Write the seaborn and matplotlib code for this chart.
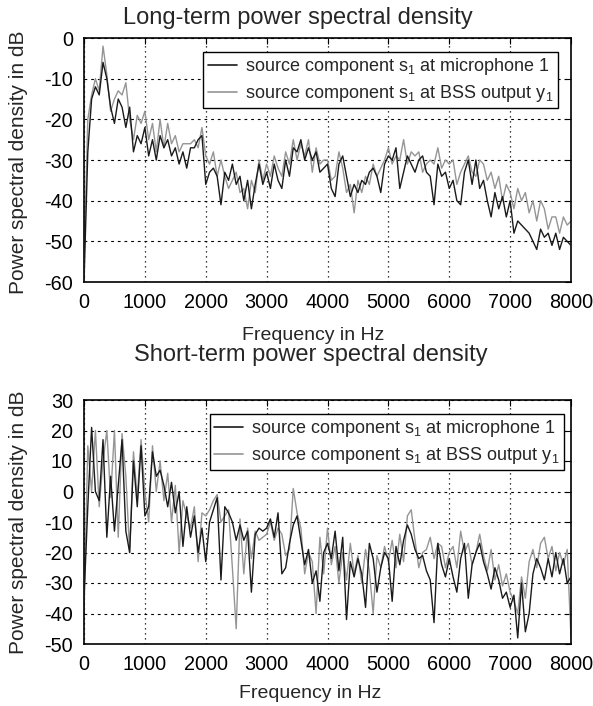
import numpy as np
import pandas as pd
import matplotlib
matplotlib.use("Agg")
import matplotlib.pyplot as plt
import seaborn as sns

# ---------------- data (dB, 62.5 Hz steps from 0 to 8000 Hz) ----------------
freq_hz = np.linspace(0, 8000, 129)

long_mic = [
    -60, -28, -15, -12, -14, -6, -10, -17, -21, -15, -17, -22, -17, -28, -24, -26,
    -22, -29, -25, -30, -24, -27, -25, -29, -27, -31, -28, -32, -27, -27, -25, -24,
    -36, -33, -32, -34, -41, -33, -35, -31, -36, -34, -40, -35, -42, -36, -31, -36,
    -33, -37, -31, -35, -37, -30, -34, -27, -28, -25, -30, -27, -30, -28, -33, -32,
    -31, -37, -39, -31, -29, -34, -39, -36, -38, -35, -36, -33, -32, -34, -38, -31,
    -29, -30, -27, -37, -33, -29, -31, -33, -30, -29, -33, -34, -41, -31, -34, -33,
    -37, -35, -40, -41, -33, -30, -36, -30, -37, -35, -40, -44, -38, -42, -39, -44,
    -40, -48, -45, -46, -47, -48, -50, -52, -47, -49, -48, -51, -48, -52, -49, -50,
    -51,
]
long_bss = [
    -55, -20, -14, -10, -13, -2, -9, -18, -15, -13, -14, -11, -20, -25, -19, -21,
    -18, -25, -21, -28, -20, -27, -21, -26, -24, -28, -26, -26, -26, -25, -27, -22,
    -29, -31, -28, -34, -30, -34, -37, -35, -33, -38, -37, -42, -35, -38, -30, -35,
    -31, -34, -29, -32, -34, -28, -31, -25, -30, -26, -29, -25, -33, -27, -31, -30,
    -30, -35, -34, -28, -32, -38, -36, -43, -35, -38, -34, -36, -31, -34, -32, -30,
    -27, -31, -29, -30, -25, -31, -28, -29, -28, -33, -31, -30, -31, -27, -32, -30,
    -31, -30, -36, -33, -31, -29, -33, -34, -30, -31, -35, -33, -37, -34, -40, -36,
    -38, -42, -37, -40, -38, -43, -40, -45, -40, -42, -47, -44, -44, -48, -44, -46,
    -45,
]
short_mic = [
    -35, -5, 21, 0, -3, 17, -15, 5, -13, 2, 17, -13, -20, 10, -5, 15,
    -8, -5, 13, 5, 7, 2, -5, 3, -7, 0, -18, -5, -15, -8, -20, -12,
    -23, -10, -6, -2, -29, -5, -7, -10, -16, -11, -16, -13, -33, -14, -12, -13,
    -12, -9, -15, -7, -27, -25, -17, -11, -8, -16, -24, -19, -30, -26, -36, -20,
    -17, -22, -13, -26, -15, -42, -23, -28, -22, -27, -38, -17, -22, -33, -25, -20,
    -22, -36, -18, -24, -16, -11, -14, -19, -22, -21, -26, -29, -43, -17, -24, -28,
    -22, -28, -33, -22, -17, -35, -24, -20, -17, -23, -27, -32, -25, -29, -35, -33,
    -38, -34, -48, -30, -46, -40, -27, -22, -25, -29, -22, -28, -20, -27, -22, -30,
    -28,
]
short_bss = [
    -40, 15, 0, 20, -5, 10, 20, -2, 20, -15, 19, 5, -20, 13, -2, 17,
    0, -10, 15, 0, 10, -3, 6, -10, 2, -20, -3, -8, -12, -5, -23, -7,
    -8, -6, -3, -1, -10, -8, -6, -25, -45, -9, -27, -12, -22, -13, -16, -15,
    -14, -10, -16, -12, -14, -21, -19, 1, -7, -12, -27, -20, -23, -40, -15, -27,
    -12, -24, -18, -30, -20, -29, -17, -27, -21, -30, -19, -26, -40, -21, -25, -18,
    -23, -16, -25, -14, -23, -8, -6, -16, -25, -20, -19, -15, -22, -17, -18, -25,
    -20, -18, -25, -13, -20, -17, -24, -20, -14, -21, -26, -19, -29, -24, -31, -27,
    -33, -36, -40, -28, -35, -23, -19, -25, -17, -15, -22, -18, -26, -20, -24, -19,
    -48,
]

labels = ["source component s$_1$ at microphone 1",
          "source component s$_1$ at BSS output y$_1$"]
titles = ["Long-term power spectral density", "Short-term power spectral density"]
x_ticks = [0, 1000, 2000, 3000, 4000, 5000, 6000, 7000, 8000]
y_ticks_long = [0, -10, -20, -30, -40, -50, -60]
y_ticks_short = [30, 20, 10, 0, -10, -20, -30, -40, -50]

# ---------------- style ----------------
sns.set_theme(style="white")
plt.rcParams["font.family"] = ["Liberation Sans", "DejaVu Sans"]
plt.rcParams["mathtext.default"] = "regular"
plt.rcParams["mathtext.fontset"] = "custom"
plt.rcParams["mathtext.rm"] = "Liberation Sans"

W, H = 593, 706
fig = plt.figure(figsize=(W / 100, H / 100), dpi=100)

def px_axes(left, top, right, bottom):
    return fig.add_axes([left / W, 1 - bottom / H, (right - left) / W, (bottom - top) / H])

ax1 = px_axes(84, 38, 571, 282)
ax2 = px_axes(84, 400, 571, 644)

c_mic = "#1a1a1a"
c_bss = "#959595"

def draw(ax, mic, bss, ylim, yticks, legend_anchor):
    df = pd.DataFrame({"f": freq_hz, "mic": mic, "bss": bss})
    sns.lineplot(data=df, x="f", y="mic", ax=ax, color=c_mic, lw=1.0, label=labels[0], zorder=3)
    sns.lineplot(data=df, x="f", y="bss", ax=ax, color=c_bss, lw=1.0, label=labels[1], zorder=2)
    ax.set_xlim(0, 8000)
    ax.set_ylim(*ylim)
    ax.set_xticks(x_ticks)
    ax.set_yticks(yticks)
    ax.set_xticklabels([str(t) for t in x_ticks])
    ax.set_yticklabels([str(t) for t in yticks])
    ax.set_xlabel("")
    ax.set_ylabel("")
    ax.tick_params(axis="both", which="both", direction="in", length=4, width=0.8,
                   top=True, right=True, labelsize=14.3, colors="black", pad=8)
    for t in yticks:
        ax.axhline(t, color="black", lw=0.8, ls=(0, (2.5, 3.5)), zorder=1)
    for t in x_ticks:
        ax.axvline(t, color="black", lw=0.9, ls=(0, (1, 3)), zorder=1)
    for s in ax.spines.values():
        s.set_color("black")
        s.set_linewidth(1.2)
    leg = ax.legend(loc="upper right", bbox_to_anchor=legend_anchor, fontsize=13,
                    frameon=True, fancybox=False, edgecolor="black", framealpha=1,
                    handlelength=1.6, handletextpad=0.45, borderpad=0.25,
                    labelspacing=0.3, borderaxespad=0)
    leg.get_frame().set_linewidth(1.0)
    for line in leg.get_lines():
        line.set_linewidth(1.2)

draw(ax1, long_mic, long_bss, (-60, 0), y_ticks_long, (0.973, 0.943))
draw(ax2, short_mic, short_bss, (-50, 30), y_ticks_short, (0.986, 0.943))

# titles and axis labels
fig.text(298 / W, 1 - 18 / H, titles[0], ha="center", va="center", fontsize=17)
fig.text(311 / W, 1 - 355 / H, titles[1], ha="center", va="center", fontsize=17)
fig.text(313 / W, 1 - 336 / H, "Frequency in Hz", ha="center", va="center", fontsize=14)
fig.text(310 / W, 1 - 693 / H, "Frequency in Hz", ha="center", va="center", fontsize=14)
fig.text(19 / W, 1 - 162 / H, "Power spectral density in dB", ha="center", va="center",
         rotation=90, fontsize=15)
fig.text(19 / W, 1 - 522 / H, "Power spectral density in dB", ha="center", va="center",
         rotation=90, fontsize=15)

fig.savefig("out.png", dpi=100, facecolor="white")
